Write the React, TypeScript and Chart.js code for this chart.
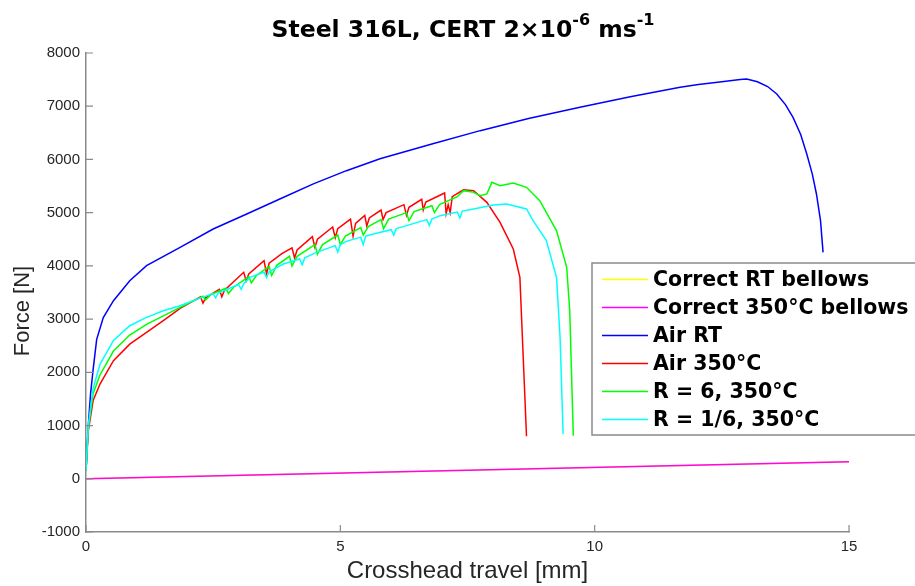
import { useEffect, useRef } from 'react';
import { Chart, registerables } from 'chart.js';

Chart.register(...registerables);

// ---- Data (crosshead travel in mm, force in N) ----
const xTickValues = [0, 5, 10, 15];
const yTickValues = [-1000, 0, 1000, 2000, 3000, 4000, 5000, 6000, 7000, 8000];

const travelBellowsRT = [0, 15];
const forceBellowsRT = [0, 320];

const travelBellows350 = [0, 15];
const forceBellows350 = [0, 320];

const travelAirRT = [0, 0.045, 0.09, 0.14, 0.21, 0.34, 0.54, 0.86, 1.19, 1.85, 2.5, 3.16, 3.81, 4.47, 5.12, 5.78, 6.8, 7.75, 8.7, 9.71, 10.7, 11.68, 12.04, 12.5, 12.86, 12.99, 13.2, 13.4, 13.58, 13.75, 13.9, 14.05, 14.17, 14.28, 14.36, 14.44, 14.49];
const forceAirRT = [150, 1000, 1600, 2050, 2620, 3030, 3346, 3722, 4004, 4348, 4693, 4975, 5257, 5540, 5789, 6012, 6290, 6541, 6770, 6980, 7180, 7356, 7406, 7460, 7500, 7510, 7460, 7370, 7231, 7030, 6791, 6470, 6103, 5720, 5351, 4850, 4254];

const travelAir350 = [0, 0.045, 0.14, 0.275, 0.54, 0.86, 1.19, 1.52, 1.85, 2.25, 2.3, 2.35, 2.62, 2.67, 2.72, 3.1, 3.15, 3.2, 3.5, 3.55, 3.6, 3.85, 4.05, 4.1, 4.15, 4.45, 4.5, 4.55, 4.85, 4.9, 4.95, 5.2, 5.25, 5.3, 5.48, 5.52, 5.57, 5.8, 5.84, 5.9, 6.25, 6.3, 6.35, 6.6, 6.63, 6.68, 7.05, 7.08, 7.12, 7.16, 7.2, 7.42, 7.62, 7.88, 8.14, 8.4, 8.53, 8.66];
const forceAir350 = [150, 900, 1470, 1780, 2220, 2530, 2750, 2970, 3200, 3420, 3300, 3400, 3560, 3420, 3540, 3880, 3720, 3850, 4100, 3850, 4050, 4230, 4340, 4150, 4300, 4550, 4350, 4500, 4730, 4530, 4700, 4880, 4560, 4800, 4950, 4750, 4900, 5050, 4870, 5000, 5150, 4950, 5100, 5250, 5050, 5200, 5370, 4980, 5150, 5000, 5300, 5430, 5414, 5194, 4818, 4317, 3784, 800];

const travelR6 = [0, 0.045, 0.14, 0.275, 0.54, 0.86, 1.19, 1.52, 1.85, 2.3, 2.35, 2.45, 2.75, 2.8, 2.9, 3.2, 3.25, 3.35, 3.6, 3.65, 3.75, 4.0, 4.05, 4.15, 4.5, 4.55, 4.65, 4.95, 5.0, 5.1, 5.4, 5.45, 5.55, 5.8, 5.85, 5.95, 6.3, 6.35, 6.45, 6.8, 6.85, 6.95, 7.3, 7.42, 7.6, 7.75, 7.88, 7.98, 8.14, 8.4, 8.66, 8.92, 9.25, 9.45, 9.51, 9.58];
const forceR6 = [150, 950, 1600, 1950, 2400, 2700, 2900, 3060, 3220, 3430, 3360, 3460, 3580, 3480, 3600, 3800, 3680, 3820, 3990, 3820, 4010, 4180, 4000, 4180, 4400, 4220, 4400, 4580, 4400, 4560, 4720, 4580, 4740, 4870, 4700, 4880, 5000, 4850, 5020, 5130, 5000, 5150, 5300, 5414, 5390, 5320, 5351, 5570, 5508, 5558, 5476, 5226, 4662, 3972, 3158, 808];

const travelR16 = [0, 0.045, 0.14, 0.275, 0.54, 0.86, 1.19, 1.52, 1.85, 2.2, 2.5, 2.55, 2.6, 3.0, 3.05, 3.1, 3.22, 3.5, 3.55, 3.6, 3.88, 4.2, 4.25, 4.3, 4.53, 4.9, 4.95, 5.0, 5.12, 5.4, 5.45, 5.5, 5.65, 6.0, 6.05, 6.1, 6.3, 6.7, 6.75, 6.8, 6.96, 7.3, 7.35, 7.4, 7.62, 8.01, 8.27, 8.66, 8.79, 9.05, 9.25, 9.32, 9.38];
const forceR16 = [150, 1000, 1700, 2150, 2600, 2876, 3032, 3158, 3250, 3380, 3480, 3400, 3490, 3650, 3560, 3660, 3784, 3880, 3780, 3890, 4035, 4130, 4020, 4150, 4254, 4380, 4260, 4400, 4461, 4540, 4400, 4560, 4599, 4680, 4580, 4700, 4756, 4870, 4760, 4880, 4944, 5010, 4900, 5030, 5069, 5144, 5163, 5069, 4850, 4474, 3784, 2656, 840];

const seriesLabels = ['Correct RT bellows', 'Correct 350°C bellows', 'Air RT', 'Air 350°C', 'R = 6, 350°C', 'R = 1/6, 350°C'];
const seriesColors = ['#ffff00', '#ff00ff', '#0000ff', '#ff0000', '#00ff00', '#00ffff'];
const seriesTravel = [travelBellowsRT, travelBellows350, travelAirRT, travelAir350, travelR6, travelR16];
const seriesForce = [forceBellowsRT, forceBellows350, forceAirRT, forceAir350, forceR6, forceR16];

const FONT = '"Liberation Sans", Arial, Helvetica, sans-serif';
const BOLD_FONT = '"DejaVu Sans", "Liberation Sans", sans-serif';
const AXIS_COLOR = '#8a8a8a';
const TEXT_COLOR = '#262626';

const titlePlugin = {
  id: 'supTitle',
  afterDraw(chart: any) {
    const ctx = chart.ctx;
    ctx.save();
    ctx.fillStyle = '#000';
    ctx.textBaseline = 'alphabetic';
    const parts: [string, boolean][] = [
      ['Steel 316L, CERT 2×10', false],
      ['-6', true],
      [' ms', false],
      ['-1', true],
    ];
    const mainFont = `bold 23.5px ${BOLD_FONT}`;
    const supFont = `bold 16px ${BOLD_FONT}`;
    let total = 0;
    for (const [t, sup] of parts) {
      ctx.font = sup ? supFont : mainFont;
      total += ctx.measureText(t).width;
    }
    let x = 463 - total / 2;
    const base = 37;
    for (const [t, sup] of parts) {
      ctx.font = sup ? supFont : mainFont;
      ctx.fillText(t, x, sup ? base - 12 : base);
      x += ctx.measureText(t).width;
    }
    // y axis title
    ctx.font = `22px ${FONT}`;
    ctx.fillStyle = TEXT_COLOR;
    ctx.textAlign = 'center';
    ctx.textBaseline = 'middle';
    ctx.translate(23, 311);
    ctx.rotate(-Math.PI / 2);
    ctx.fillText('Force [N]', 0, 0);
    ctx.restore();
  },
};

const ticksPlugin = {
  id: 'inwardTicks',
  afterDatasetsDraw(chart: any) {
    const { ctx, chartArea, scales } = chart;
    ctx.save();
    ctx.strokeStyle = AXIS_COLOR;
    ctx.lineWidth = 1.2;
    ctx.beginPath();
    for (const v of xTickValues) {
      const px = scales.x.getPixelForValue(v);
      ctx.moveTo(px, chartArea.bottom);
      ctx.lineTo(px, chartArea.bottom - 7);
    }
    for (const v of yTickValues) {
      const py = scales.y.getPixelForValue(v);
      ctx.moveTo(chartArea.left, py);
      ctx.lineTo(chartArea.left + 7, py);
    }
    ctx.stroke();
    ctx.restore();
  },
};

const legendPlugin = {
  id: 'boxLegend',
  afterDraw(chart: any) {
    const ctx = chart.ctx;
    ctx.save();
    const left = 592;
    const top = 263;
    const right = 916;
    const bottom = 435;
    ctx.fillStyle = '#fff';
    ctx.fillRect(left, top, right - left, bottom - top);
    ctx.strokeStyle = '#8a8a8a';
    ctx.lineWidth = 1.5;
    ctx.strokeRect(left, top, right - left, bottom - top);
    ctx.font = `bold 20.5px ${BOLD_FONT}`;
    ctx.textBaseline = 'middle';
    seriesLabels.forEach((label, i) => {
      const cy = 279.5 + i * 28;
      ctx.strokeStyle = seriesColors[i];
      ctx.lineWidth = 1.4;
      ctx.beginPath();
      ctx.moveTo(602, cy);
      ctx.lineTo(648, cy);
      ctx.stroke();
      ctx.fillStyle = '#000';
      ctx.fillText(label, 653, cy + 1);
    });
    ctx.restore();
  },
};

export default function App() {
  const ref = useRef<HTMLCanvasElement | null>(null);

  useEffect(() => {
    if (!ref.current) return;
    const datasets = seriesLabels.map((label, i) => ({
      label,
      data: seriesTravel[i].map((x, k) => ({ x, y: seriesForce[i][k] })),
      borderColor: seriesColors[i],
      backgroundColor: seriesColors[i],
      borderWidth: 1.5,
      showLine: true,
      pointRadius: 0,
      tension: 0,
      order: seriesLabels.length - i,
    }));
    const chart = new Chart(ref.current, {
      type: 'scatter',
      data: { datasets },
      options: {
        responsive: false,
        animation: false,
        devicePixelRatio: 1,
        layout: { padding: { left: 0, top: 53, right: 66, bottom: 0 } },
        plugins: {
          legend: { display: false },
          title: { display: false },
          tooltip: { enabled: false },
        },
        scales: {
          x: {
            type: 'linear',
            min: 0,
            max: 15,
            afterBuildTicks: (s: any) => {
              s.ticks = xTickValues.map((v) => ({ value: v }));
            },
            afterFit: (s: any) => {
              s.height = 54;
            },
            grid: { display: false, drawTicks: false },
            border: { display: true, color: AXIS_COLOR, width: 1.5 },
            ticks: {
              color: TEXT_COLOR,
              font: { family: FONT, size: 15 },
              padding: 6,
              maxRotation: 0,
              callback: (v: any) => String(v),
            },
            title: {
              display: true,
              text: 'Crosshead travel [mm]',
              color: TEXT_COLOR,
              font: { family: FONT, size: 24 },
              padding: { top: 0, bottom: 0 },
            },
          },
          y: {
            type: 'linear',
            min: -1000,
            max: 8000,
            afterBuildTicks: (s: any) => {
              s.ticks = yTickValues.map((v) => ({ value: v }));
            },
            afterFit: (s: any) => {
              s.width = 86;
            },
            grid: { display: false, drawTicks: false },
            border: { display: true, color: AXIS_COLOR, width: 1.5 },
            ticks: {
              color: TEXT_COLOR,
              font: { family: FONT, size: 15 },
              padding: 6,
              callback: (v: any) => String(v),
            },
            title: { display: false },
          },
        },
      },
      plugins: [ticksPlugin, titlePlugin, legendPlugin],
    });
    return () => chart.destroy();
  }, []);

  return (
    <div style={{ position: 'fixed', left: 0, top: 0, width: 915, height: 586, background: '#fff' }}>
      <canvas ref={ref} width={915} height={586} style={{ width: 915, height: 586 }} />
    </div>
  );
}
